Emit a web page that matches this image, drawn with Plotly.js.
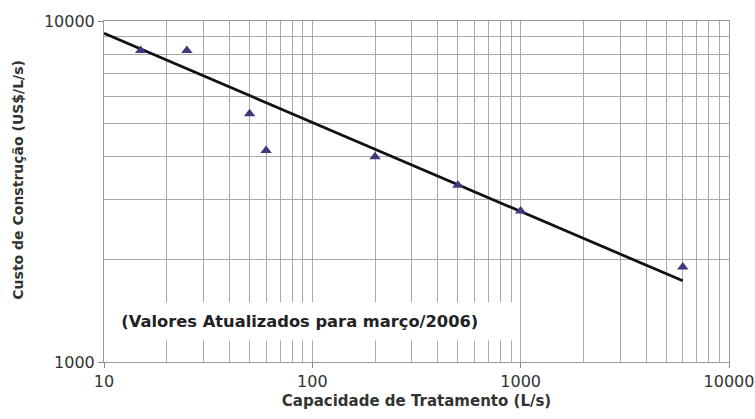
<!DOCTYPE html>
<html>
<head>
<meta charset="utf-8">
<script src="https://cdn.plot.ly/plotly-3.0.1.min.js"></script>
<style>html,body{margin:0;padding:0;background:#fff;}#chart{width:755px;height:419px;}</style>
</head>
<body>
<div id="chart"></div>
<script>
// Observed data points
const capacidade = [15, 25, 50, 60, 200, 500, 1000, 6000];
const custo = [8200, 8200, 5350, 4170, 4000, 3300, 2770, 1900];
// Trend line endpoints (power fit)
const trendX = [10, 6000];
const trendY = [9200, 1730];

const gridColor = '#a8a8a8';
const traces = [
  {
    x: trendX, y: trendY, mode: 'lines', type: 'scatter',
    line: {color: '#111111', width: 2.8}, hoverinfo: 'skip', showlegend: false
  },
  {
    x: capacidade, y: custo, mode: 'markers', type: 'scatter',
    marker: {symbol: 'triangle-up', size: 10, color: '#3d3b7c'}, showlegend: false
  }
];

const layout = {
  width: 755, height: 419,
  margin: {l: 104, r: 26, t: 21, b: 57},
  paper_bgcolor: '#ffffff', plot_bgcolor: '#ffffff',
  font: {family: 'DejaVu Sans, Arial, sans-serif', color: '#333333'},
  showlegend: false,
  xaxis: {
    type: 'log', range: [1, 4],
    tickvals: [10, 100, 1000, 10000], ticktext: ['10', '100', '1000', '10000'],
    ticks: 'outside', ticklen: 5, tickcolor: '#888888',
    tickfont: {size: 16, color: '#333333'},
    showgrid: true, gridcolor: gridColor, gridwidth: 1,
    minor: {dtick: 'D1', showgrid: true, gridcolor: gridColor, gridwidth: 1, ticks: ''},
    showline: true, linecolor: '#999999', linewidth: 1, mirror: true,
    zeroline: false,
    title: {text: '<b>Capacidade de Tratamento (L/s)</b>', font: {size: 15, color: '#333333'}, standoff: 5}
  },
  yaxis: {
    type: 'log', range: [3, 4],
    tickvals: [1000, 10000], ticktext: ['1000', '10000'],
    ticks: 'outside', ticklen: 5, tickcolor: '#888888',
    tickfont: {size: 16, color: '#333333'},
    showgrid: true, gridcolor: gridColor, gridwidth: 1,
    minor: {dtick: 'D1', showgrid: true, gridcolor: gridColor, gridwidth: 1, ticks: ''},
    showline: true, linecolor: '#999999', linewidth: 1, mirror: true,
    zeroline: false
  },
  annotations: [
    {
      xref: 'paper', yref: 'paper', x: -0.138, y: 0.534,
      xanchor: 'center', yanchor: 'middle', textangle: -90,
      text: '<b>Custo de Construção (US$/L/s)</b>',
      showarrow: false, font: {size: 14, color: '#333333'}
    },
    {
      xref: 'paper', yref: 'paper', x: 0.334, y: 0.12,
      xanchor: 'center', yanchor: 'middle',
      text: '<b>&nbsp;&nbsp;(Valores Atualizados para março/2006)</b>',
      showarrow: false, bgcolor: '#ffffff',
      width: 405, height: 35, align: 'left',
      font: {size: 16.3, color: '#222222'}
    }
  ]
};

Plotly.newPlot('chart', traces, layout, {staticPlot: true, displayModeBar: false});
</script>
</body>
</html>
